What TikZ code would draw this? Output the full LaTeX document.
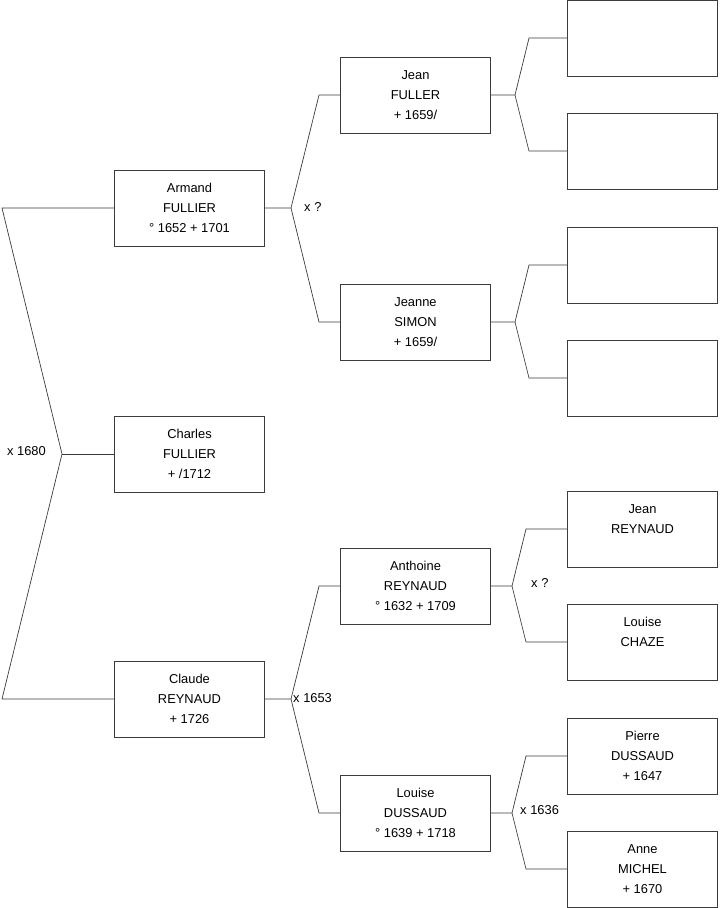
\documentclass[tikz,border=0pt]{standalone}
\usepackage{fontspec}
\setmainfont{Liberation Sans}
\usetikzlibrary{positioning}
\definecolor{famline}{RGB}{60,60,60}

\begin{document}
\begin{tikzpicture}[
    x=0.03cm, y=-0.03cm,
    font=\fontsize{11}{17}\selectfont,
    person/.style={draw=famline, line width=0.6pt, fill=white, minimum width=4.5cm, minimum height=2.28cm, align=center, inner sep=0pt},
    link/.style={draw=famline, line width=0.6pt},
    union/.style={anchor=west, inner sep=0pt}
  ]
    \useasboundingbox (0,0) rectangle (719,908);

    % generation 1
    \node[person] (armand) at (189.5,208) {Armand\\FULLIER\\° 1652 + 1701};
    \node[person] (charles) at (189.5,454) {Charles\\FULLIER\\+ /1712};
    \node[person] (claude) at (189.5,699) {Claude\\REYNAUD\\+ 1726};

    % generation 2
    \node[person] (jeanf) at (415.5,95) {Jean\\FULLER\\+ 1659/};
    \node[person] (jeanne) at (415.5,322) {Jeanne\\SIMON\\+ 1659/};
    \node[person] (anthoine) at (415.5,586) {Anthoine\\REYNAUD\\° 1632 + 1709};
    \node[person] (louised) at (415.5,813) {Louise\\DUSSAUD\\° 1639 + 1718};

    % generation 3
    \node[person] (g1) at (642.5,38) {};
    \node[person] (g2) at (642.5,151) {};
    \node[person] (g3) at (642.5,265) {};
    \node[person] (g4) at (642.5,378) {};
    \node[person] (jeanr) at (642.5,529) {Jean\\REYNAUD\\~};
    \node[person] (louisec) at (642.5,642) {Louise\\CHAZE\\~};
    \node[person] (pierre) at (642.5,756) {Pierre\\DUSSAUD\\+ 1647};
    \node[person] (anne) at (642.5,869) {Anne\\MICHEL\\+ 1670};

    % Charles
    \coordinate (kC) at (62,454);
    \coordinate (kC1) at (2,208);
    \coordinate (kC2) at (2,699);
    \draw[link] (charles.west) -- (kC);
    \draw[link] (armand.west) -- (kC1) -- (kC) -- (kC2) -- (claude.west);
    \node[union, anchor=east] (uC) at (46,451) {x 1680};

    % Armand
    \coordinate (kA) at (291,208);
    \coordinate (kA1) at (319,95);
    \coordinate (kA2) at (319,322);
    \draw[link] (armand.east) -- (kA) -- (kA1) -- (jeanf.west);
    \draw[link] (kA) -- (kA2) -- (jeanne.west);
    \node[union] (uA) at (304,207) {x ?};

    % Claude
    \coordinate (kR) at (291,699);
    \coordinate (kR1) at (319,586);
    \coordinate (kR2) at (319,813);
    \draw[link] (claude.east) -- (kR) -- (kR1) -- (anthoine.west);
    \draw[link] (kR) -- (kR2) -- (louised.west);
    \node[union] (uR) at (293,698) {x 1653};

    % Jean FULLER
    \coordinate (kJ) at (515,95);
    \coordinate (kJ1) at (529,38);
    \coordinate (kJ2) at (529,151);
    \draw[link] (jeanf.east) -- (kJ) -- (kJ1) -- (g1.west);
    \draw[link] (kJ) -- (kJ2) -- (g2.west);

    % Jeanne SIMON
    \coordinate (kS) at (515,322);
    \coordinate (kS1) at (529,265);
    \coordinate (kS2) at (529,378);
    \draw[link] (jeanne.east) -- (kS) -- (kS1) -- (g3.west);
    \draw[link] (kS) -- (kS2) -- (g4.west);

    % Anthoine
    \coordinate (kT) at (512,586);
    \coordinate (kT1) at (526,529);
    \coordinate (kT2) at (526,642);
    \draw[link] (anthoine.east) -- (kT) -- (kT1) -- (jeanr.west);
    \draw[link] (kT) -- (kT2) -- (louisec.west);
    \node[union] (uT) at (531,583) {x ?};

    % Louise DUSSAUD
    \coordinate (kD) at (512,813);
    \coordinate (kD1) at (526,756);
    \coordinate (kD2) at (526,869);
    \draw[link] (louised.east) -- (kD) -- (kD1) -- (pierre.west);
    \draw[link] (kD) -- (kD2) -- (anne.west);
    \node[union] (uD) at (520,810) {x 1636};
  \end{tikzpicture}
\end{document}
